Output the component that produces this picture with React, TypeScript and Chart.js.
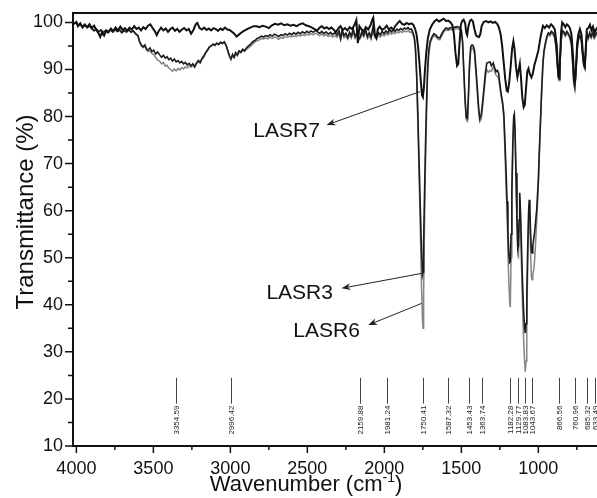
import { useEffect, useRef } from "react";
import { Chart, registerables } from "chart.js";

Chart.register(...registerables);

// ---------- data ----------
const LASR7_WN = [
  4020, 4000, 3990, 3975, 3960, 3945, 3930, 3915, 3900, 3885, 3870, 3855, 3845, 3835, 3820, 3805, 3790, 3775, 3760, 3745,
  3730, 3715, 3700, 3685, 3670, 3655, 3640, 3625, 3610, 3595, 3580, 3565, 3550, 3535, 3520, 3505, 3490, 3478, 3465, 3450,
  3435, 3420, 3405, 3390, 3375, 3360, 3345, 3330, 3315, 3300, 3285, 3270, 3255, 3240, 3225, 3215, 3200, 3185, 3170, 3155,
  3140, 3125, 3110, 3095, 3080, 3065, 3050, 3035, 3020, 3005, 2990, 2975, 2960, 2945, 2930, 2917, 2900, 2885, 2870, 2850,
  2830, 2810, 2790, 2770, 2750, 2730, 2710, 2690, 2670, 2650, 2630, 2610, 2590, 2570, 2550, 2530, 2510, 2490, 2470, 2450,
  2435, 2420, 2405, 2390, 2375, 2360, 2345, 2330, 2315, 2300, 2285, 2270, 2255, 2240, 2225, 2210, 2195, 2182, 2172, 2162,
  2150, 2135, 2120, 2105, 2090, 2078, 2072, 2062, 2052, 2042, 2030, 2015, 2000, 1985, 1970, 1955, 1942, 1930, 1915, 1900,
  1885, 1870, 1855, 1840, 1825, 1812, 1800, 1790, 1780, 1770, 1762, 1755, 1750, 1744, 1737, 1728, 1718, 1705, 1690, 1675,
  1660, 1645, 1630, 1615, 1600, 1585, 1570, 1558, 1548, 1538, 1528, 1520, 1512, 1503, 1495, 1485, 1475, 1468, 1462, 1455,
  1445, 1435, 1425, 1415, 1405, 1395, 1385, 1377, 1368, 1355, 1340, 1325, 1310, 1295, 1280, 1265, 1255, 1245, 1235, 1225,
  1215, 1205, 1198, 1190, 1180, 1170, 1162, 1155, 1145, 1136, 1128, 1120, 1112, 1104, 1095, 1088, 1080, 1072, 1064, 1055,
  1045, 1037, 1025, 1012, 1000, 985, 970, 958, 945, 930, 918, 905, 893, 880, 872, 866, 860, 852, 845, 835,
  825, 815, 805, 795, 785, 775, 768, 762, 756, 748, 740, 730, 720, 712, 704, 698, 692, 685, 675, 665,
  655, 645, 635, 625, 615,
];
const LASR7_T = [
  99.6, 100.1, 99.2, 99.8, 98.9, 99.5, 99.0, 99.6, 98.8, 99.3, 98.4, 97.6, 96.9, 97.8, 97.2, 98.3, 98.0, 98.7, 98.1, 98.9,
  98.3, 99.1, 98.4, 98.8, 98.2, 98.9, 98.5, 99.2, 98.6, 98.9, 98.3, 99.0, 98.6, 99.3, 99.6, 98.8, 98.1, 97.3, 98.2, 98.9,
  98.3, 98.7, 98.0, 98.6, 98.9, 98.2, 98.6, 98.0, 98.5, 98.8, 98.3, 98.6, 97.6, 98.4, 99.6, 99.9, 98.8, 98.5, 98.9, 98.4,
  98.7, 98.3, 98.8, 98.6, 98.2, 98.7, 98.4, 98.9, 98.5, 98.4, 98.0, 97.6, 97.0, 97.4, 97.8, 98.1, 98.4, 98.7, 98.9, 99.2,
  99.2, 99.0, 99.3, 99.1, 98.8, 99.4, 99.7, 99.5, 99.8, 99.4, 99.6, 99.3, 99.5, 99.2, 99.6, 99.8, 99.4, 99.2, 98.9, 98.5,
  98.3, 98.9, 99.2, 98.7, 99.0, 98.6, 98.9, 98.5, 97.9, 98.7, 99.2, 98.4, 98.8, 98.3, 99.0, 98.6, 99.4, 100.5, 95.6, 99.2,
  98.6, 98.1, 99.0, 98.5, 99.4, 100.6, 101.0, 97.5, 96.7, 98.6, 99.1, 98.4, 98.7, 99.3, 98.5, 98.9, 98.4, 99.2, 99.8, 100.3,
  99.7, 99.5, 99.9, 99.6, 99.8, 99.5, 98.6, 97.3, 94.5, 90.5, 87.0, 84.5, 84.2, 85.8, 89.5, 93.5, 96.5, 98.5, 99.5, 100.2,
  100.6, 100.2, 100.5, 100.8, 100.3, 100.4, 100.0, 99.4, 97.5, 93.5, 90.8, 91.2, 95.5, 99.5, 100.3, 100.6, 99.8, 97.8, 97.3, 99.0,
  100.3, 100.6, 100.2, 98.6, 97.3, 97.0, 96.9, 97.5, 99.2, 100.1, 100.3, 100.0, 100.2, 99.9, 100.1, 99.6, 98.8, 97.5, 95.0, 91.5,
  88.0, 85.5, 85.3, 87.0, 90.5, 94.5, 96.0, 94.5, 90.5, 88.4, 89.8, 91.2, 88.0, 84.0, 82.0, 82.5, 86.0, 89.5, 90.2, 89.0,
  88.3, 89.0, 91.0, 92.5, 94.0, 97.0, 99.3, 98.8, 99.4, 98.9, 99.6, 99.2, 98.5, 95.0, 89.5, 88.3, 91.5, 98.0, 100.0, 99.6,
  99.0, 99.6, 99.3, 98.8, 97.5, 93.0, 88.5, 87.4, 90.0, 95.5, 97.5, 98.6, 97.5, 94.0, 91.0, 90.6, 94.5, 98.6, 98.8, 99.5,
  98.3, 99.1, 97.8, 98.5, 99.0,
];

const MID_WN = [
  4020, 4000, 3990, 3975, 3960, 3945, 3930, 3915, 3900, 3885, 3870, 3855, 3840, 3825, 3810, 3795, 3780, 3765, 3750, 3735,
  3720, 3705, 3690, 3675, 3660, 3645, 3630, 3615, 3600, 3590, 3578, 3567, 3555, 3545, 3535, 3522, 3510, 3498, 3485, 3472,
  3459, 3447, 3435, 3423, 3411, 3400, 3388, 3376, 3364, 3352, 3340, 3328, 3316, 3304, 3292, 3280, 3268, 3256, 3244, 3232,
  3220, 3208, 3196, 3184, 3172, 3160, 3148, 3136, 3124, 3112, 3100, 3088, 3076, 3064, 3052, 3040, 3028, 3016, 3005, 2996,
  2986, 2976, 2966, 2955, 2944, 2932, 2920, 2908, 2895, 2882, 2868, 2854, 2840, 2826, 2812, 2798, 2784, 2770, 2756, 2742,
  2728, 2714, 2700, 2686, 2672, 2658, 2644, 2630, 2616, 2602, 2588, 2574, 2560, 2546, 2532, 2518, 2504, 2490, 2476, 2462,
  2448, 2434, 2420, 2406, 2392, 2378, 2364, 2350, 2336, 2322, 2308, 2294, 2284, 2274, 2262, 2250, 2238, 2226, 2214, 2202,
  2190, 2178, 2166, 2158, 2146, 2134, 2122, 2110, 2098, 2086, 2074, 2062, 2050, 2038, 2026, 2014, 2002, 1990, 1978, 1966,
  1954, 1942, 1930, 1918, 1906, 1894, 1882, 1870, 1858, 1846, 1834, 1824, 1814, 1805, 1798, 1790, 1782, 1774, 1766, 1758,
  1752, 1749, 1745, 1740, 1734, 1727, 1720, 1712, 1702, 1690, 1678, 1665, 1652, 1640, 1628, 1615, 1600, 1585, 1570, 1555,
  1540, 1525, 1512, 1500, 1492, 1484, 1476, 1468, 1460, 1454, 1447, 1439, 1430, 1422, 1414, 1406, 1396, 1388, 1380, 1370,
  1362, 1353, 1343, 1335, 1325, 1314, 1305, 1293, 1284, 1275, 1266, 1258, 1249, 1240, 1232, 1224, 1216, 1208, 1203, 1198,
  1192, 1186, 1182, 1177, 1172, 1166, 1160, 1156, 1151, 1145, 1139, 1133, 1129, 1125, 1121, 1116, 1110, 1103, 1096, 1090,
  1085, 1080, 1075, 1069, 1063, 1059, 1055, 1050, 1045, 1041, 1036, 1030, 1024, 1018, 1010, 1000, 992, 985, 978, 970,
  963, 955, 945, 935, 925, 915, 905, 895, 885, 877, 870, 865, 860, 853, 845, 835, 825, 815, 805, 795,
  785, 777, 770, 763, 757, 749, 741, 731, 721, 713, 704, 698, 692, 685, 676, 667, 657, 647, 637, 627,
  615,
];
const LASR3_T = [
  99.8, 99.9, 99.4, 99.7, 99.1, 99.6, 98.9, 99.3, 98.7, 98.2, 98.6, 98.0, 98.4, 97.9, 98.3, 97.8, 98.5, 98.0, 98.6, 98.1,
  98.4, 97.8, 98.3, 98.0, 98.5, 97.9, 98.2, 97.6, 97.2, 96.0, 95.2, 94.8, 95.2, 94.4, 94.1, 94.6, 93.8, 94.1, 93.3, 93.7,
  93.1, 92.6, 93.0, 92.4, 92.7, 92.1, 92.4, 91.8, 92.2, 91.6, 91.9, 91.4, 91.7, 91.2, 91.5, 91.0, 91.3, 90.8, 91.2, 90.6,
  91.4, 91.9, 91.5, 92.4, 92.9, 93.6, 94.2, 94.8, 95.0, 95.4, 95.1, 95.6, 95.3, 95.8, 95.5, 95.9, 95.2, 94.0, 92.8, 92.3,
  93.2, 92.6, 93.6, 93.1, 94.0, 93.7, 94.3, 94.0, 94.6, 95.0, 95.4, 95.9, 96.2, 96.6, 96.8, 97.1, 96.9, 97.2, 97.0, 97.4,
  97.1, 97.5, 97.3, 97.0, 97.4, 97.2, 97.6, 97.3, 97.7, 97.4, 97.8, 97.5, 97.9, 97.6, 98.0, 97.7, 98.1, 97.8, 98.2, 97.9,
  98.3, 98.0, 97.7, 98.1, 97.6, 98.0, 97.5, 97.9, 97.4, 97.8, 97.3, 98.2, 96.6, 98.4, 97.2, 97.7, 96.8, 97.9, 97.1, 98.6,
  97.0, 97.8, 96.5, 96.8, 98.0, 97.3, 98.6, 97.0, 97.8, 96.9, 99.0, 97.2, 96.9, 97.8, 97.4, 98.1, 97.6, 98.2, 97.8, 98.4,
  98.0, 98.5, 98.1, 98.6, 98.3, 98.7, 98.4, 98.8, 98.6, 98.9, 98.5, 98.6, 97.8, 96.8, 94.5, 89.0, 80.0, 70.0, 60.0, 51.0,
  46.5, 47.0, 53.0, 62.0, 72.0, 82.0, 89.5, 94.0, 96.0, 97.0, 97.6, 97.3, 96.8, 96.7, 97.5, 98.3, 98.8, 98.6, 98.9, 98.8,
  99.0, 99.1, 98.9, 98.4, 96.0, 90.0, 84.0, 79.8, 79.6, 84.5, 91.0, 94.8, 95.2, 95.0, 94.0, 90.5, 86.0, 82.0, 79.6, 80.5,
  83.0, 86.0, 89.5, 91.3, 91.5, 91.6, 90.8, 91.4, 90.4, 89.5, 89.8, 89.2, 86.7, 84.5, 83.0, 80.5, 74.0, 67.0, 62.0, 56.0,
  51.0, 49.0, 49.2, 55.0, 64.0, 74.0, 80.0, 80.5, 77.0, 68.0, 59.0, 52.0, 52.5, 58.0, 63.8, 60.0, 53.0, 45.0, 39.0, 35.5,
  34.0, 36.0, 42.0, 52.0, 60.0, 62.3, 60.0, 55.0, 51.5, 51.0, 52.5, 54.0, 55.5, 57.5, 60.5, 66.5, 74.0, 80.0, 86.0, 91.5,
  94.0, 95.5, 97.0, 97.8, 97.5, 98.1, 97.8, 97.2, 95.0, 91.5, 88.5, 88.0, 91.0, 96.0, 98.3, 98.0, 97.4, 98.1, 97.6, 97.0,
  95.5, 91.5, 87.5, 86.3, 89.0, 94.0, 96.5, 97.3, 96.5, 93.5, 91.0, 90.5, 94.0, 97.6, 96.8, 97.8, 97.0, 97.9, 96.9, 97.5,
  98.0,
];
const LASR6_T = [
  99.7, 100.0, 99.3, 99.5, 99.0, 99.4, 98.9, 99.2, 98.6, 98.3, 98.4, 98.1, 98.3, 97.8, 98.2, 97.9, 98.3, 98.1, 98.4, 98.0,
  98.5, 97.9, 98.2, 97.9, 98.3, 98.0, 98.1, 97.5, 97.0, 95.8, 95.0, 94.6, 94.9, 94.1, 93.8, 94.0, 93.4, 93.2, 92.5, 92.0,
  91.8, 91.2, 91.5, 90.7, 90.9, 90.3, 90.0, 89.6, 90.1, 89.7, 90.2, 89.9, 90.4, 90.1, 90.6, 90.3, 90.8, 90.5, 91.0, 90.4,
  91.2, 91.6, 91.3, 92.2, 92.6, 93.5, 94.0, 94.7, 95.1, 95.2, 95.3, 95.5, 95.4, 95.7, 95.6, 95.8, 95.0, 93.8, 92.6, 92.0,
  93.0, 92.5, 93.3, 92.9, 93.6, 93.5, 94.0, 93.8, 94.3, 94.6, 95.0, 95.4, 95.9, 96.1, 96.3, 96.6, 96.5, 96.7, 96.5, 96.9,
  96.6, 96.9, 96.8, 96.4, 96.8, 96.6, 97.0, 96.8, 97.1, 96.9, 97.2, 97.0, 97.3, 97.1, 97.4, 97.2, 97.5, 97.3, 97.6, 97.4,
  97.7, 97.5, 97.2, 97.6, 97.1, 97.4, 97.0, 97.3, 96.9, 97.2, 96.8, 97.5, 96.3, 97.8, 96.7, 97.1, 96.4, 97.3, 96.6, 97.9,
  96.6, 97.2, 96.2, 96.5, 97.4, 96.9, 98.0, 96.5, 97.2, 96.4, 98.3, 96.8, 96.5, 97.3, 96.9, 97.5, 97.1, 97.7, 97.3, 97.8,
  97.5, 97.9, 97.6, 98.0, 97.8, 98.1, 97.9, 98.2, 98.0, 98.3, 97.9, 98.0, 97.4, 96.4, 94.0, 88.0, 78.0, 67.0, 55.0, 43.0,
  36.5, 35.0, 42.0, 55.0, 68.0, 79.0, 88.0, 93.0, 95.5, 96.6, 97.2, 96.9, 96.4, 96.3, 97.1, 97.9, 98.4, 98.3, 98.5, 98.4,
  98.6, 98.7, 98.5, 98.0, 95.5, 89.0, 83.0, 79.3, 79.0, 84.0, 90.2, 94.2, 94.6, 94.3, 93.2, 89.5, 85.0, 81.0, 78.9, 79.5,
  82.0, 85.2, 88.6, 90.0, 89.4, 89.8, 89.6, 90.6, 89.6, 88.8, 88.5, 88.2, 86.0, 84.0, 82.5, 79.5, 72.0, 63.0, 60.9, 52.0,
  45.0, 40.5, 39.5, 50.0, 62.0, 73.0, 79.5, 80.2, 76.0, 66.0, 57.0, 50.5, 50.2, 57.0, 63.0, 58.0, 49.0, 40.0, 33.0, 28.5,
  25.8, 28.0, 36.0, 48.0, 58.0, 61.5, 58.5, 51.0, 46.0, 45.3, 46.5, 47.4, 49.5, 53.0, 58.0, 65.5, 73.5, 79.5, 85.5, 91.0,
  93.6, 95.0, 96.6, 97.4, 97.1, 97.7, 97.4, 96.8, 94.6, 91.0, 88.0, 87.6, 90.5, 95.5, 97.9, 97.6, 97.0, 97.7, 97.2, 96.6,
  95.1, 91.0, 87.0, 85.8, 88.5, 93.5, 96.0, 96.9, 96.0, 93.0, 90.5, 90.0, 93.5, 97.2, 96.4, 97.3, 96.6, 97.4, 96.5, 97.1,
  97.5,
];

const SERIES_NAMES = ["LASR7", "LASR3", "LASR6"];

// peak markers
const PEAK_LABELS = [
  "3354.59", "2996.42", "2159.88", "1981.24", "1750.41", "1587.32", "1453.43", "1363.74",
  "1182.28", "1129.77", "1083.83", "1043.67", "866.56", "760.96", "685.32", "633.49",
];
const PEAK_LINE_TOP = 24.5;
const PEAK_LINE_BOTTOM = 19;

// arrow annotations (wavenumber, %T)
const ARROW_FROM = [[1769, 85.3], [1754, 46.7], [1758, 40.3]];
const ARROW_TIP = [[2375, 78.2], [2278, 43.5], [2105, 35.7]];
const LABEL_AT = [[2419, 76.8], [2334, 42.4], [2159, 34.4]];

// axes
const X_MIN = 619;
const X_MAX = 4022;
const Y_MIN = 10;
const Y_MAX = 102;
const X_MAJOR = [4000, 3500, 3000, 2500, 2000, 1500, 1000];
const X_MINOR = [3750, 3250, 2750, 2250, 1750, 1250, 750];
const Y_MAJOR = [10, 20, 30, 40, 50, 60, 70, 80, 90, 100];
const Y_MINOR = [15, 25, 35, 45, 55, 65, 75, 85, 95];

const FONT = "'Liberation Sans', Arial, Helvetica, sans-serif";

const decorPlugin = {
  id: "decor",
  afterDraw(chart: any) {
    const { ctx, chartArea } = chart;
    const xs = chart.scales.x;
    const ys = chart.scales.y;
    const L = chartArea.left;
    const R = chartArea.right;
    const T = chartArea.top;
    const B = chartArea.bottom;
    ctx.save();

    // frame
    ctx.strokeStyle = "#111";
    ctx.lineWidth = 2;
    ctx.beginPath();
    ctx.moveTo(R + 2, T);
    ctx.lineTo(L, T);
    ctx.lineTo(L, B);
    ctx.lineTo(R + 2, B);
    ctx.stroke();

    // ticks
    ctx.lineWidth = 1.5;
    ctx.beginPath();
    X_MAJOR.forEach((v) => {
      const p = xs.getPixelForValue(v);
      ctx.moveTo(p, B);
      ctx.lineTo(p, B + 7);
    });
    X_MINOR.forEach((v) => {
      const p = xs.getPixelForValue(v);
      ctx.moveTo(p, B);
      ctx.lineTo(p, B + 4);
    });
    Y_MAJOR.forEach((v) => {
      const p = ys.getPixelForValue(v);
      ctx.moveTo(L, p);
      ctx.lineTo(L - 8, p);
    });
    Y_MINOR.forEach((v) => {
      const p = ys.getPixelForValue(v);
      ctx.moveTo(L, p);
      ctx.lineTo(L - 5, p);
    });
    ctx.stroke();

    // peak markers
    ctx.strokeStyle = "#444";
    ctx.lineWidth = 1;
    ctx.fillStyle = "#222";
    ctx.font = `8px ${FONT}`;
    PEAK_LABELS.forEach((lab) => {
      const v = parseFloat(lab);
      const px = Math.round(xs.getPixelForValue(v)) + 0.5;
      const y1 = ys.getPixelForValue(PEAK_LINE_TOP);
      const y2 = ys.getPixelForValue(PEAK_LINE_BOTTOM);
      ctx.beginPath();
      ctx.moveTo(px, y1);
      ctx.lineTo(px, y2);
      ctx.stroke();
      ctx.save();
      ctx.translate(px, y2 + 2);
      ctx.rotate(-Math.PI / 2);
      ctx.textAlign = "right";
      ctx.textBaseline = "middle";
      ctx.fillText(lab, 0, 0);
      ctx.restore();
    });

    // arrows + labels
    ctx.strokeStyle = "#222";
    ctx.fillStyle = "#222";
    ctx.lineWidth = 1;
    SERIES_NAMES.forEach((name, i) => {
      const x0 = xs.getPixelForValue(ARROW_FROM[i][0]);
      const y0 = ys.getPixelForValue(ARROW_FROM[i][1]);
      const x1 = xs.getPixelForValue(ARROW_TIP[i][0]);
      const y1 = ys.getPixelForValue(ARROW_TIP[i][1]);
      const ang = Math.atan2(y1 - y0, x1 - x0);
      const hl = 9;
      const hw = 3.5;
      ctx.beginPath();
      ctx.moveTo(x0, y0);
      ctx.lineTo(x1 - Math.cos(ang) * hl * 0.7, y1 - Math.sin(ang) * hl * 0.7);
      ctx.stroke();
      ctx.beginPath();
      ctx.moveTo(x1, y1);
      ctx.lineTo(x1 - Math.cos(ang) * hl + Math.sin(ang) * hw, y1 - Math.sin(ang) * hl - Math.cos(ang) * hw);
      ctx.lineTo(x1 - Math.cos(ang) * hl * 0.7, y1 - Math.sin(ang) * hl * 0.7);
      ctx.lineTo(x1 - Math.cos(ang) * hl - Math.sin(ang) * hw, y1 - Math.sin(ang) * hl + Math.cos(ang) * hw);
      ctx.closePath();
      ctx.fill();

      ctx.font = `21px ${FONT}`;
      ctx.textAlign = "right";
      ctx.textBaseline = "middle";
      ctx.fillStyle = "#111";
      ctx.fillText(name, xs.getPixelForValue(LABEL_AT[i][0]), ys.getPixelForValue(LABEL_AT[i][1]));
      ctx.fillStyle = "#222";
    });

    // axis titles
    ctx.fillStyle = "#111";
    ctx.font = `22px ${FONT}`;
    const main = "Wavenumber (cm";
    const sup = "-1";
    const close = ")";
    const wMain = ctx.measureText(main).width;
    const wClose = ctx.measureText(close).width;
    ctx.font = `14px ${FONT}`;
    const wSup = ctx.measureText(sup).width;
    const total = wMain + wSup + wClose;
    const cx = 306;
    const base = 491;
    let x = cx - total / 2;
    ctx.textAlign = "left";
    ctx.textBaseline = "alphabetic";
    ctx.font = `22px ${FONT}`;
    ctx.fillText(main, x, base);
    x += wMain;
    ctx.font = `14px ${FONT}`;
    ctx.fillText(sup, x, base - 9);
    x += wSup;
    ctx.font = `22px ${FONT}`;
    ctx.fillText(close, x, base);

    ctx.save();
    ctx.translate(26, 212);
    ctx.rotate(-Math.PI / 2);
    ctx.textAlign = "center";
    ctx.textBaseline = "middle";
    ctx.font = `24px ${FONT}`;
    ctx.fillText("Transmittance (%)", 0, 0);
    ctx.restore();

    ctx.restore();
  },
};

export default function App() {
  const ref = useRef<HTMLCanvasElement | null>(null);

  useEffect(() => {
    if (!ref.current) return;
    const mk = (wn: number[], t: number[]) => wn.map((x, i) => ({ x, y: t[i] }));
    const hidden = "rgba(0,0,0,0)";
    const chart = new Chart(ref.current, {
      type: "line",
      data: {
        datasets: [
          { label: SERIES_NAMES[0], data: mk(LASR7_WN, LASR7_T), borderColor: "#111", borderWidth: 2, pointRadius: 0, tension: 0 },
          { label: SERIES_NAMES[1], data: mk(MID_WN, LASR3_T), borderColor: "#1c1c1c", borderWidth: 1.6, pointRadius: 0, tension: 0 },
          { label: SERIES_NAMES[2], data: mk(MID_WN, LASR6_T), borderColor: "#858585", borderWidth: 1.5, pointRadius: 0, tension: 0 },
        ],
      },
      options: {
        responsive: false,
        animation: false,
        devicePixelRatio: 1,
        layout: { padding: { top: 13, right: 0, left: 0, bottom: 0 } },
        plugins: { legend: { display: false }, tooltip: { enabled: false }, title: { display: false } },
        scales: {
          x: {
            type: "linear",
            reverse: true,
            min: X_MIN,
            max: X_MAX,
            afterBuildTicks: (s: any) => {
              s.ticks = X_MAJOR.map((v) => ({ value: v }));
            },
            afterFit: (s: any) => {
              s.height = 52;
            },
            grid: { display: true, drawOnChartArea: false, drawTicks: true, tickLength: 7, color: hidden },
            border: { display: false },
            ticks: {
              autoSkip: false,
              maxRotation: 0,
              padding: 5,
              color: "#111",
              font: { family: FONT, size: 18 },
              callback: (v: any) => String(v),
            },
          },
          y: {
            type: "linear",
            min: Y_MIN,
            max: Y_MAX,
            afterBuildTicks: (s: any) => {
              s.ticks = Y_MAJOR.map((v) => ({ value: v }));
            },
            afterFit: (s: any) => {
              s.width = 73;
            },
            grid: { display: true, drawOnChartArea: false, drawTicks: true, tickLength: 8, color: hidden },
            border: { display: false },
            ticks: {
              padding: 2,
              color: "#111",
              font: { family: FONT, size: 18 },
              callback: (v: any) => String(v),
            },
          },
        },
      },
      plugins: [decorPlugin],
    });
    return () => chart.destroy();
  }, []);

  return (
    <div style={{ position: "absolute", left: 0, top: 0, width: 597, height: 498, background: "#fff" }}>
      <canvas ref={ref} width={597} height={498} style={{ display: "block", width: 597, height: 498 }} />
    </div>
  );
}
